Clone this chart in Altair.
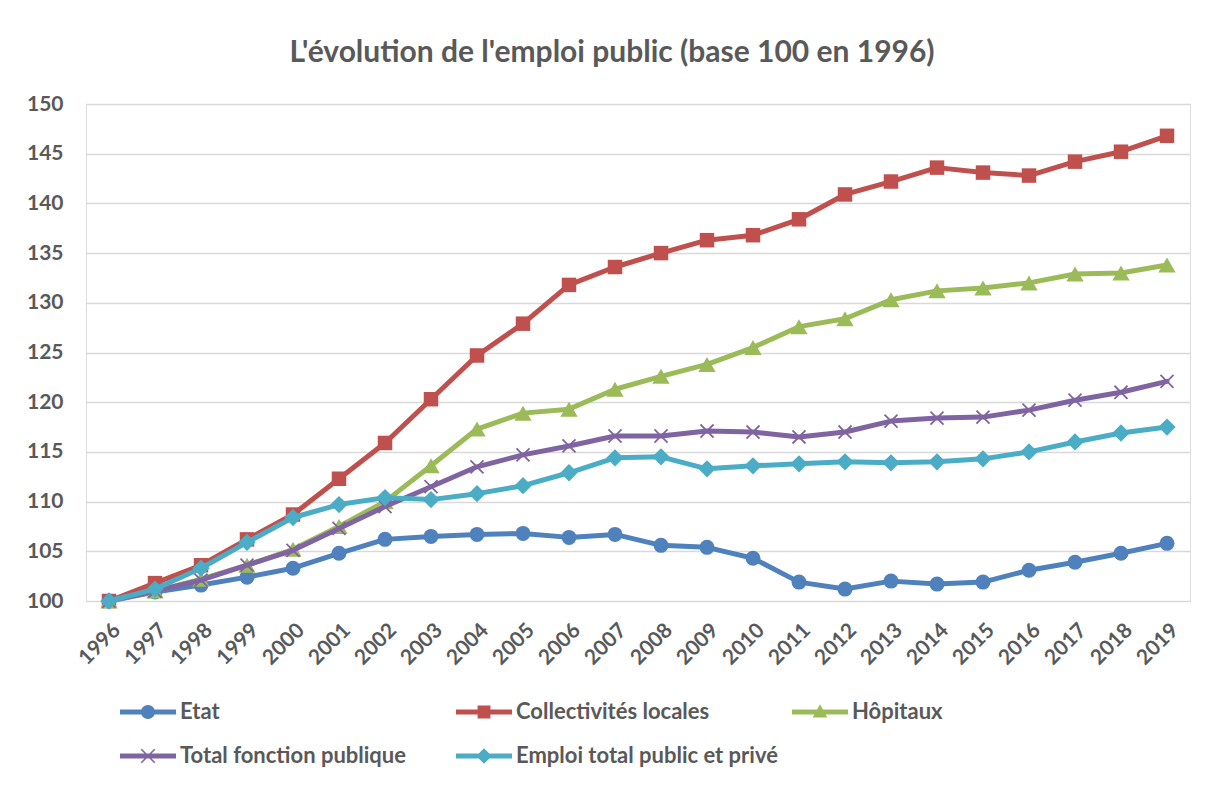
import altair as alt
import pandas as pd

years = [str(y) for y in range(1996, 2020)]

series_names = ["Etat", "Collectivités locales", "Hôpitaux",
                "Total fonction publique", "Emploi total public et privé"]
series_colors = ["#4F81BD", "#C0504D", "#9BBB59", "#8064A2", "#4BACC6"]

etat = [100.0, 100.9, 101.6, 102.4, 103.3, 104.8, 106.2, 106.5, 106.7, 106.8,
        106.4, 106.7, 105.6, 105.4, 104.3, 101.9, 101.2, 102.0, 101.7, 101.9,
        103.1, 103.9, 104.8, 105.8]
collectivites = [100.0, 101.8, 103.6, 106.2, 108.7, 112.3, 115.9, 120.3, 124.7, 127.9,
                 131.8, 133.6, 135.0, 136.3, 136.8, 138.4, 140.9, 142.2, 143.6, 143.1,
                 142.8, 144.2, 145.2, 146.8]
hopitaux = [100.0, 101.0, 102.2, 103.6, 105.2, 107.5, 110.0, 113.6, 117.3, 118.9,
            119.3, 121.3, 122.6, 123.8, 125.5, 127.6, 128.4, 130.3, 131.2, 131.5,
            132.0, 132.9, 133.0, 133.8]
total_fp = [100.0, 101.0, 102.1, 103.6, 105.1, 107.3, 109.5, 111.5, 113.5, 114.7,
            115.6, 116.6, 116.6, 117.1, 117.0, 116.5, 117.0, 118.1, 118.4, 118.5,
            119.2, 120.2, 121.0, 122.1]
emploi_total = [100.0, 101.2, 103.3, 105.9, 108.4, 109.7, 110.4, 110.2, 110.8, 111.6,
                112.9, 114.4, 114.5, 113.3, 113.6, 113.8, 114.0, 113.9, 114.0, 114.3,
                115.0, 116.0, 116.9, 117.5]

y_ticks = list(range(100, 151, 5))

all_values = [etat, collectivites, hopitaux, total_fp, emploi_total]
rows = []
for name, vals in zip(series_names, all_values):
    for yr, v in zip(years, vals):
        rows.append({"year": yr, "value": v, "series": name})
df = pd.DataFrame(rows)

FONT = "Lato"
GREY = "#595959"

# point marker shapes for the plot
marker_shapes = ["circle", "square", "triangle-up", "M-1,-1L1,1M1,-1L-1,1", "diamond"]
marker_sizes = [225, 210, 300, 170, 300]
marker_filled = [True, True, True, False, True]

# legend symbols: line + marker (unit = 14px, path spans 56px to the right)
leg_line = "M-1,-0.18H3V0.18H-1Z"
legend_paths = [
    leg_line + "M0.5,0A0.5,0.5,0,1,1,1.5,0A0.5,0.5,0,1,1,0.5,0Z",
    leg_line + "M0.54,-0.46H1.46V0.46H0.54Z",
    leg_line + "M1,-0.55L1.52,0.4H0.48Z",
    leg_line + "M0.56,-0.52L1.52,0.44L1.44,0.52L0.48,-0.44Z"
               "M1.44,-0.52L1.52,-0.44L0.56,0.52L0.48,0.44Z",
    leg_line + "M1,-0.56L1.56,0L1,0.56L0.44,0Z",
]

x_enc = alt.X("year:O", scale=alt.Scale(type="point", padding=0.5),
              axis=alt.Axis(title=None, labelAngle=-45, labelAlign="right",
                            labelBaseline="top", labelPadding=18, ticks=False,
                            domain=True, domainColor="#D9D9D9", grid=False,
                            labelFont=FONT, labelFontSize=21, labelFontWeight="bold",
                            labelColor=GREY))
y_enc = alt.Y("value:Q", scale=alt.Scale(domain=[100, 150], nice=False, zero=False),
              axis=alt.Axis(title=None, values=y_ticks, ticks=False, domain=False,
                            grid=True, gridColor="#D9D9D9", gridWidth=1.3,
                            labelPadding=23, labelFont=FONT, labelFontSize=21,
                            labelFontWeight="bold", labelColor=GREY))

base = alt.Chart(df)
layers = []
for i, name in enumerate(series_names):
    sub = base.transform_filter(alt.datum.series == name)
    layers.append(sub.mark_line(color=series_colors[i], strokeWidth=5,
                                strokeJoin="round", strokeCap="round")
                  .encode(x=x_enc, y=y_enc))
    pt = dict(shape=marker_shapes[i], size=marker_sizes[i], opacity=1)
    if marker_filled[i]:
        pt.update(filled=True, color=series_colors[i])
    else:
        pt.update(filled=False, color=series_colors[i], strokeWidth=1.8)
    layers.append(sub.mark_point(**pt).encode(x=x_enc, y=y_enc))

legend_cfg = alt.Legend(title=None, orient="none", legendX=34, legendY=594,
                        direction="horizontal", columns=3,
                        gridAlign="all", columnPadding=14, rowPadding=19,
                        symbolSize=784, symbolOpacity=1,
                        symbolStrokeWidth=0,
                        labelFont=FONT, labelFontSize=22,
                        labelFontWeight="bold", labelColor=GREY,
                        labelOffset=32, labelLimit=400)

legend_layer = base.mark_point(filled=True, opacity=0).encode(
    x=x_enc, y=y_enc,
    color=alt.Color("series:N",
                    scale=alt.Scale(domain=series_names, range=series_colors),
                    legend=legend_cfg),
    shape=alt.Shape("series:N",
                    scale=alt.Scale(domain=series_names, range=legend_paths),
                    legend=legend_cfg),
)

chart = alt.layer(*layers, legend_layer).properties(
    width=1104, height=497,
    title=alt.TitleParams("L'évolution de l'emploi public (base 100 en 1996)",
                          font=FONT, fontSize=30, fontWeight="bold", color=GREY,
                          anchor="middle", dx=-26, offset=1, baseline="alphabetic"),
    autosize=alt.AutoSizeParams(type="none"),
    padding={"left": 78, "top": 96, "right": 10, "bottom": 170},
).configure_view(stroke=None).configure(background="white")

chart.save("out.html", embed_options={"renderer": "svg", "actions": False})
